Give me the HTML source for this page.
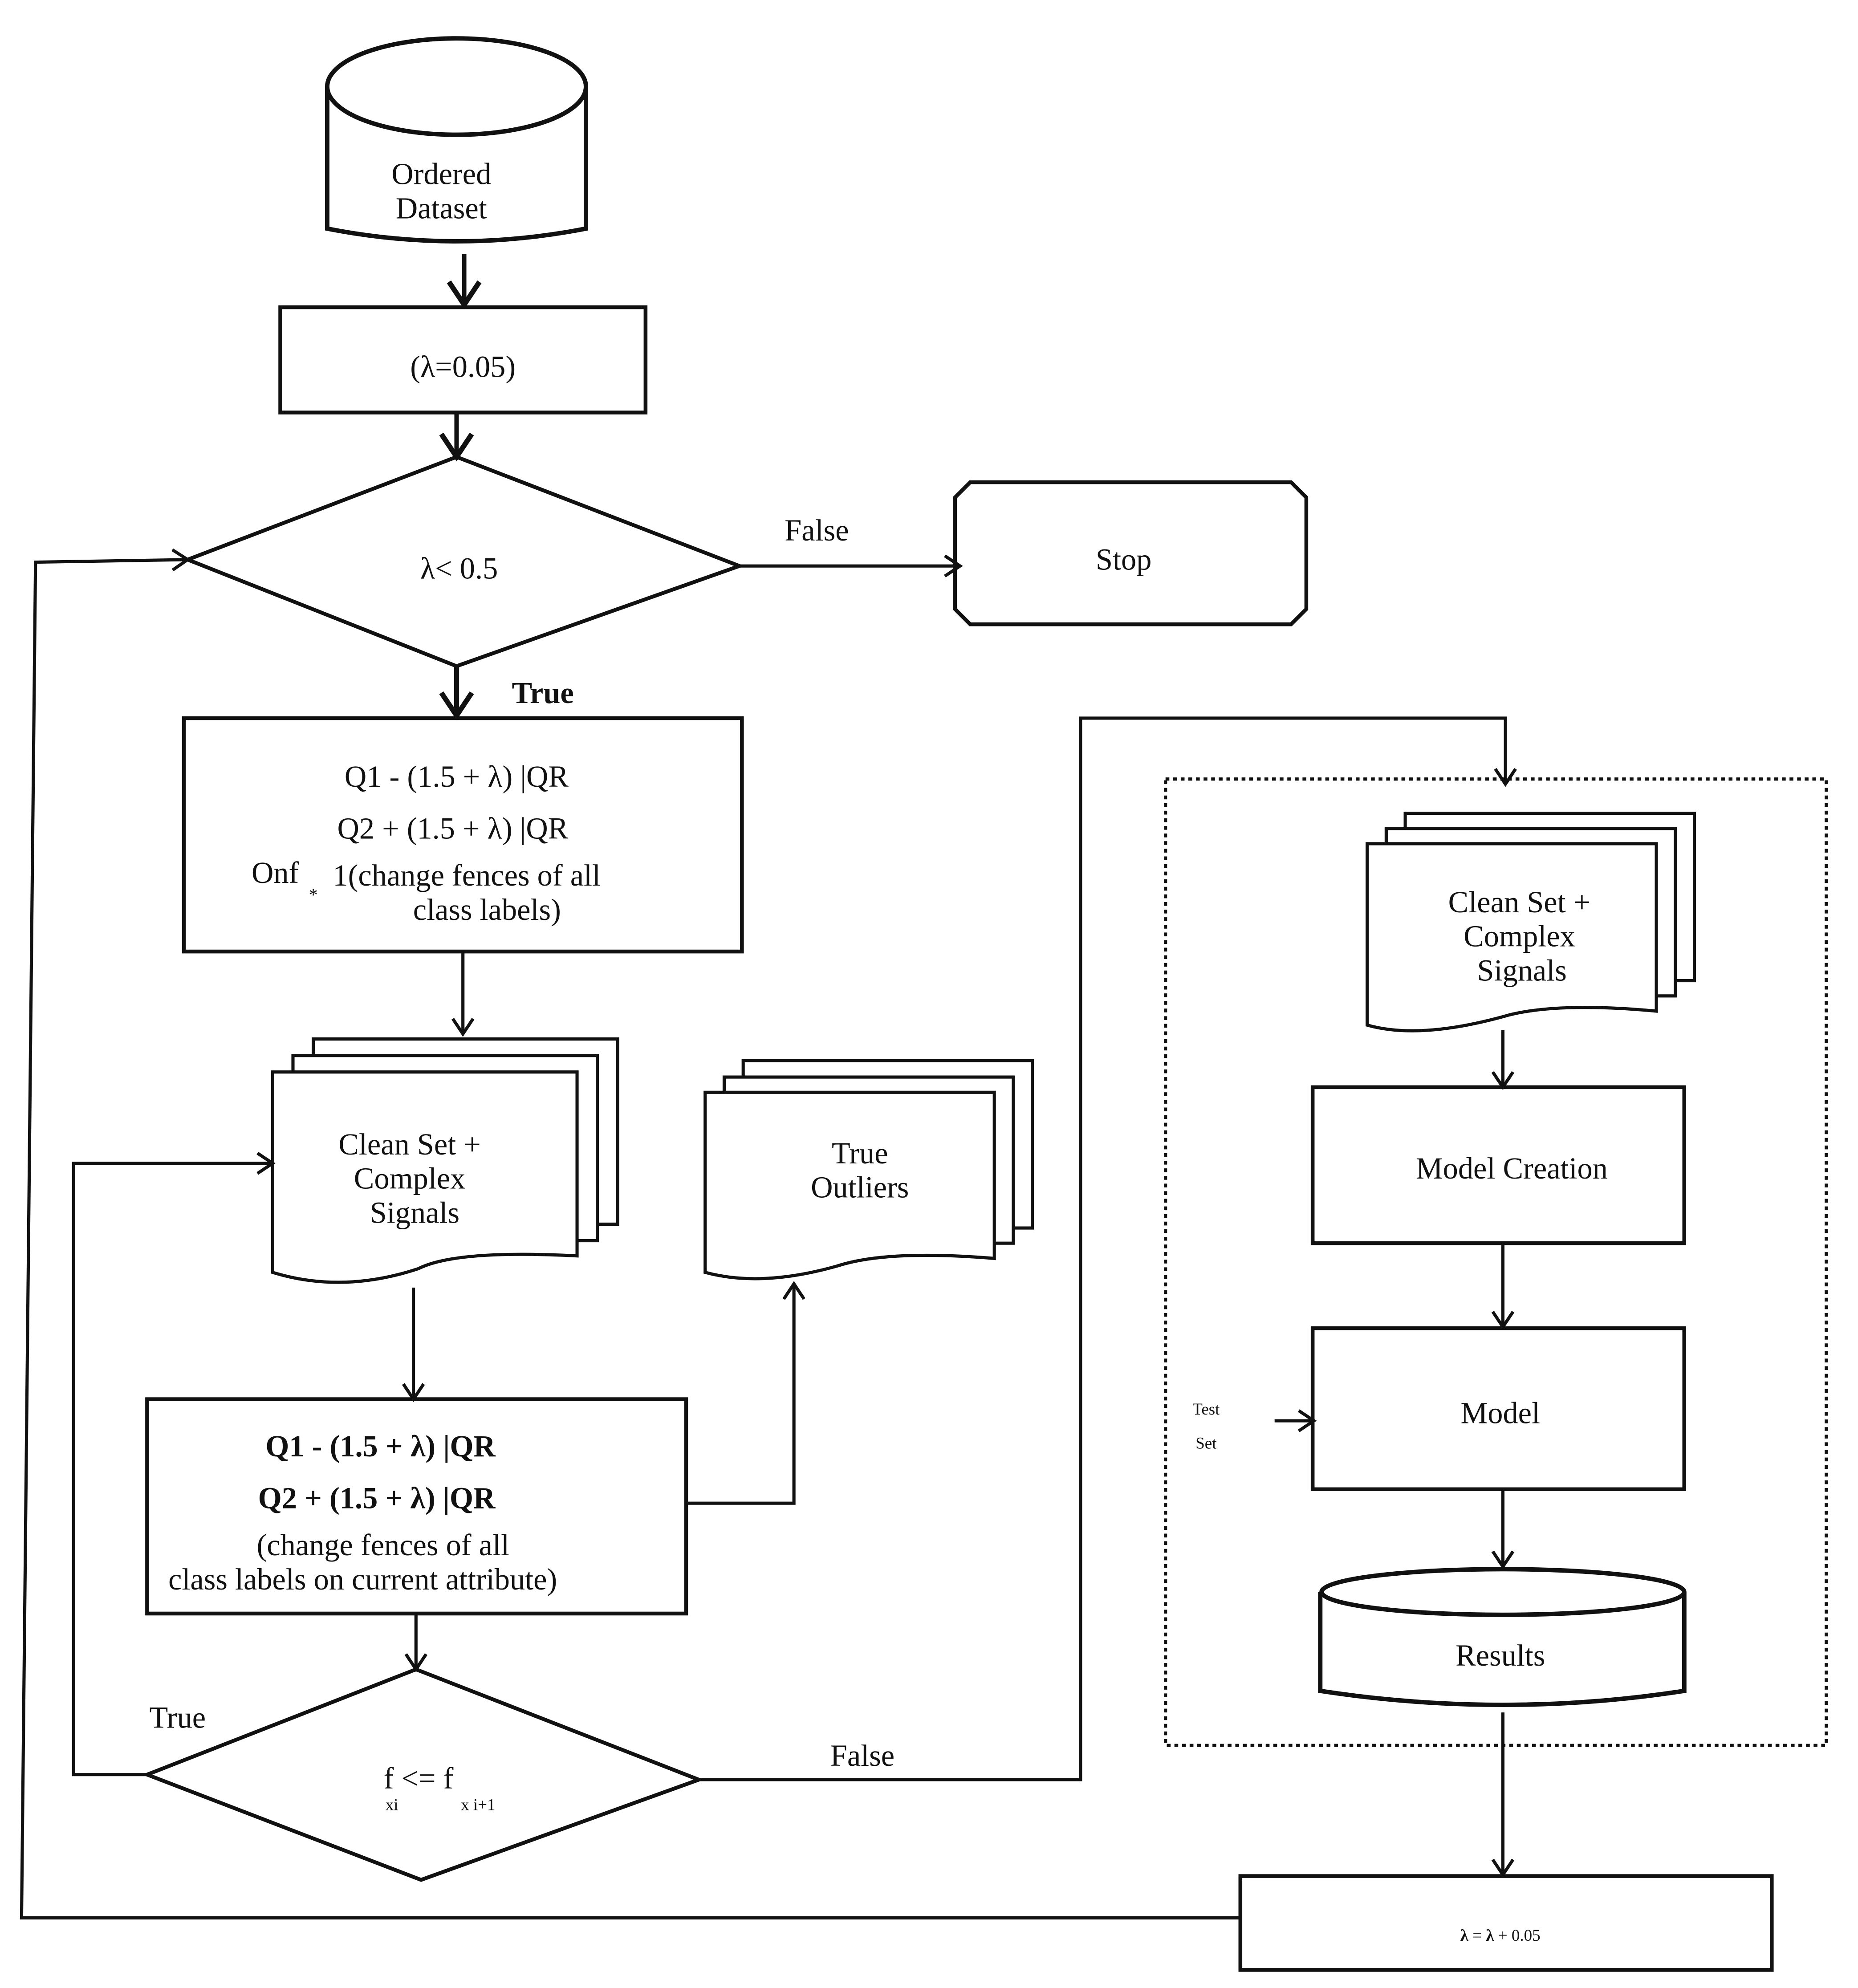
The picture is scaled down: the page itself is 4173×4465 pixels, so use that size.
<!DOCTYPE html>
<html><head><meta charset="utf-8"><style>
html,body{margin:0;padding:0;background:#fff;}
svg{display:block;}
text{font-family:"Liberation Serif",serif;fill:#111;}
</style></head><body>
<svg width="4173" height="4465" viewBox="0 0 1465 1567" xmlns="http://www.w3.org/2000/svg">
<defs>
<marker id="a" markerWidth="20" markerHeight="20" refX="16" refY="10" orient="auto" markerUnits="userSpaceOnUse">
<path d="M4,2 L16,10 L4,18" fill="none" stroke="#111" stroke-width="2.5"/></marker>
<marker id="b" markerWidth="30" markerHeight="30" refX="24" refY="15" orient="auto" markerUnits="userSpaceOnUse">
<path d="M6,3 L24,15 L6,27" fill="none" stroke="#111" stroke-width="4"/></marker>
</defs>
<g fill="none" stroke="#111" stroke-width="2.5">
<!-- top cylinder -->
<path d="M258,68 L258,180 Q360,200 462,180 L462,68" fill="#fff" stroke-width="3.5"/>
<ellipse cx="360" cy="68" rx="102" ry="38" fill="#fff" stroke-width="3.5"/>
<line x1="366" y1="200" x2="366" y2="240" stroke-width="3.5" marker-end="url(#b)"/>
<rect x="221" y="242" width="288" height="83" stroke-width="3"/>
<line x1="360" y1="325" x2="360" y2="360" stroke-width="3.5" marker-end="url(#b)"/>
<polygon points="148,441 360,360 583,446 360,525" stroke-width="3"/>
<line x1="583" y1="446" x2="757" y2="446" marker-end="url(#a)"/>
<path d="M765,380 L1018,380 L1030,392 L1030,480 L1018,492 L765,492 L753,480 L753,392 Z" stroke-width="3"/>
<line x1="360" y1="525" x2="360" y2="564" stroke-width="4" marker-end="url(#b)"/>
<rect x="145" y="566" width="440" height="184" stroke-width="3"/>
<line x1="365" y1="750" x2="365" y2="815" marker-end="url(#a)"/>
<!-- left multidoc -->
<path d="M247,819 L487,819 L487,965 L247,965 Z" fill="#fff"/>
<path d="M231,832 L471,832 L471,978 L231,978 Z" fill="#fff"/>
<path d="M215,845 L455,845 L455,990 Q360,985 330,1000 Q270,1020 215,1003 Z" fill="#fff"/>
<polyline points="117,1399 58,1399 58,917 215,917" marker-end="url(#a)"/>
<line x1="326" y1="1015" x2="326" y2="1103" marker-end="url(#a)"/>
<!-- outliers doc -->
<path d="M586,836 L814,836 L814,968 L586,968 Z" fill="#fff"/>
<path d="M571,849 L799,849 L799,980 L571,980 Z" fill="#fff"/>
<path d="M556,861 L784,861 L784,992 Q700,985 660,998 Q600,1015 556,1003 Z" fill="#fff"/>
<rect x="116" y="1103" width="425" height="169" stroke-width="3"/>
<polyline points="541,1185 626,1185 626,1012" marker-end="url(#a)"/>
<line x1="328" y1="1272" x2="328" y2="1316" marker-end="url(#a)"/>
<polygon points="116,1399 328,1316 551,1403 332,1482" stroke-width="3"/>
<polyline points="551,1403 852,1403 852,566 1187,566 1187,618" marker-end="url(#a)"/>
<rect x="919" y="614" width="521" height="762" stroke-dasharray="3,3" stroke-width="2.5"/>
<!-- right doc -->
<path d="M1108,641 L1336,641 L1336,773 L1108,773 Z" fill="#fff"/>
<path d="M1093,653 L1321,653 L1321,785 L1093,785 Z" fill="#fff"/>
<path d="M1078,665 L1306,665 L1306,797 Q1230,790 1190,800 Q1120,820 1078,808 Z" fill="#fff"/>
<line x1="1185" y1="812" x2="1185" y2="857" marker-end="url(#a)"/>
<rect x="1035" y="857" width="293" height="123" stroke-width="3"/>
<line x1="1185" y1="980" x2="1185" y2="1046" marker-end="url(#a)"/>
<rect x="1035" y="1047" width="293" height="127" stroke-width="3"/>
<line x1="1005" y1="1120" x2="1036" y2="1120" marker-end="url(#a)"/>
<line x1="1185" y1="1174" x2="1185" y2="1235" marker-end="url(#a)"/>
<path d="M1041,1255 L1041,1333 Q1185,1355 1328,1333 L1328,1255" fill="#fff" stroke-width="3.5"/>
<ellipse cx="1185" cy="1255" rx="143" ry="18" fill="#fff" stroke-width="3.5"/>
<line x1="1185" y1="1350" x2="1185" y2="1478" marker-end="url(#a)"/>
<rect x="978" y="1479" width="419" height="74" stroke-width="3"/>
<polyline points="978,1512 17,1512 28,443 148,441" marker-end="url(#a)"/>
</g>
<g font-size="24" text-anchor="middle">
<text x="348" y="145">Ordered</text>
<text x="348" y="172">Dataset</text>
<text x="365" y="297" font-family="Liberation Sans,sans-serif">(λ=0.05)</text>
<text x="362" y="456">λ&lt; 0.5</text>
<text x="644" y="426">False</text>
<text x="886" y="449">Stop</text>
<text x="428" y="554" font-weight="bold">True</text>
<text x="360" y="620">Q1 - (1.5 + λ)  |QR</text>
<text x="357" y="661">Q2 + (1.5 +  λ)  |QR</text>
<text x="217" y="696">Onf</text>
<text x="247" y="710" font-size="14">*</text>
<text x="368" y="698">1(change fences of all</text>
<text x="384" y="725">class labels)</text>
<text x="323" y="910">Clean Set +</text>
<text x="323" y="937">Complex</text>
<text x="327" y="964">Signals</text>
<text x="678" y="917">True</text>
<text x="678" y="944">Outliers</text>
<text x="300" y="1148" font-weight="bold">Q1 - (1.5 + λ)  |QR</text>
<text x="297" y="1189" font-weight="bold">Q2 + (1.5 + λ)  |QR</text>
<text x="302" y="1226">(change fences of all</text>
<text x="286" y="1253">class labels on current attribute)</text>
<text x="140" y="1362">True</text>
<text x="680" y="1392">False</text>
<text x="330" y="1410">f  &lt;=  f</text>
<text x="309" y="1427" font-size="13">xi</text>
<text x="377" y="1427" font-size="13">x i+1</text>
<text x="1198" y="719">Clean Set +</text>
<text x="1198" y="746">Complex</text>
<text x="1200" y="773">Signals</text>
<text x="1192" y="929">Model Creation</text>
<text x="1183" y="1122">Model</text>
<text x="951" y="1115" font-size="13">Test</text>
<text x="951" y="1142" font-size="13">Set</text>
<text x="1183" y="1313">Results</text>
<text x="1183" y="1530" font-size="13"><tspan font-weight="bold">λ</tspan> = <tspan font-weight="bold">λ</tspan> + 0.05</text>
</g>
</svg>
</body></html>
